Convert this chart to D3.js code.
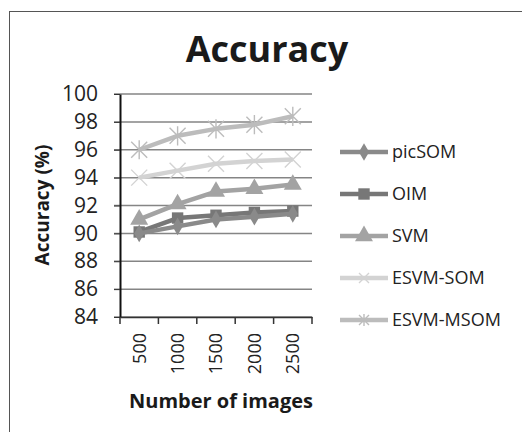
<!DOCTYPE html>
<html>
<head>
<meta charset="utf-8">
<script src="https://cdn.jsdelivr.net/npm/d3@7"></script>
<style>
  body { margin: 0; background: #fff; }
  svg { display: block; font-family: "Open Sans", sans-serif; }
</style>
</head>
<body>
<div id="chart"></div>
<script>
// chart data
const categories = ['500', '1000', '1500', '2000', '2500'];
const seriesNames = ['picSOM', 'OIM', 'SVM', 'ESVM-SOM', 'ESVM-MSOM'];
const picSOM = [90.0, 90.5, 91.0, 91.2, 91.4];
const OIM = [90.1, 91.1, 91.3, 91.5, 91.6];
const SVM = [91.0, 92.1, 93.0, 93.2, 93.5];
const esvmSOM = [94.0, 94.5, 95.0, 95.2, 95.3];
const esvmMSOM = [96.0, 97.0, 97.5, 97.8, 98.4];
const yTicks = [84, 86, 88, 90, 92, 94, 96, 98, 100];

const seriesValues = [picSOM, OIM, SVM, esvmSOM, esvmMSOM];
const colors = ['#8a8a8a', '#777777', '#a3a3a3', '#d3d3d3', '#bcbcbc'];
const symbols = ['diamond', 'square', 'triangle', 'x', 'star'];

let width = 522, height = 432;
let margin = { top: 94, left: 120, right: 210, bottom: 115 };

let svg = d3.select('#chart').append('svg')
    .attr('width', width)
    .attr('height', height);

// outer frame (only left and top edges visible)
svg.append('rect')
    .attr('x', 9.5).attr('y', 11.5)
    .attr('width', 600).attr('height', 600)
    .attr('fill', 'none')
    .attr('stroke', '#555')
    .attr('stroke-width', 1);

let x = d3.scaleBand()
    .domain(categories)
    .range([margin.left, width - margin.right]);

let y = d3.scaleLinear()
    .domain([84, 100])
    .range([height - margin.bottom, margin.top]);

// gridlines
svg.append('g')
    .selectAll('line').data(yTicks).enter().append('line')
    .attr('x1', margin.left - 6)
    .attr('x2', width - margin.right)
    .attr('y1', d => y(d))
    .attr('y2', d => y(d))
    .attr('stroke', '#858585')
    .attr('stroke-width', 1.5);

// y axis
let yAxis = svg.append('g')
    .attr('transform', `translate(${margin.left},0)`)
    .call(d3.axisLeft(y).tickValues(yTicks).tickSize(6).tickSizeOuter(0).tickPadding(16));
yAxis.select('.domain').attr('stroke', '#111').attr('stroke-width', 2);
yAxis.selectAll('.tick line').attr('stroke', '#333');
yAxis.selectAll('text')
    .attr('font-size', 21)
    .attr('fill', '#222')
    .style('font-family', '"Open Sans", sans-serif');

// x axis
let xAxis = svg.append('g')
    .attr('transform', `translate(0,${y(84)})`)
    .call(d3.axisBottom(x).tickSize(0).tickSizeOuter(0));
xAxis.select('.domain').attr('stroke', '#333').attr('stroke-width', 1.5);
xAxis.selectAll('.tick text')
    .attr('transform', 'rotate(-90)')
    .attr('text-anchor', 'end')
    .attr('x', -16)
    .attr('y', 0)
    .attr('dy', '0.35em')
    .attr('font-size', 18)
    .attr('fill', '#222')
    .style('font-family', '"Open Sans", sans-serif');

// x tick marks on band boundaries
let bounds = categories.map(c => x(c)).concat([x.range()[1]]);
svg.append('g')
    .selectAll('line').data(bounds).enter().append('line')
    .attr('x1', d => d).attr('x2', d => d)
    .attr('y1', y(84)).attr('y2', y(84) + 7)
    .attr('stroke', '#333').attr('stroke-width', 1.5);

// series
let line = d3.line()
    .x((d, i) => x(categories[i]) + x.bandwidth() / 2)
    .y(d => y(d));

function drawMarker(g, type, color, size) {
    if (type === 'x' || type === 'star') {
        let r = size;
        let p = g.append('path')
            .attr('fill', 'none')
            .attr('stroke', color)
            .attr('stroke-width', 1.4);
        let d = `M${-r},${-r}L${r},${r}M${-r},${r}L${r},${-r}`;
        if (type === 'star') d += `M0,${-r * 1.2}L0,${r * 1.2}`;
        p.attr('d', d);
    } else {
        let sym = { diamond: d3.symbolDiamond, square: d3.symbolSquare, triangle: d3.symbolTriangle }[type];
        let area = { diamond: 90, square: 130, triangle: 140 }[type];
        g.append('path')
            .attr('d', d3.symbol().type(sym).size(area)())
            .attr('fill', color);
    }
}

let seriesOrder = [4, 3, 2, 1, 0];
seriesOrder.forEach(si => {
    let vals = seriesValues[si];
    svg.append('path')
        .datum(vals)
        .attr('d', line)
        .attr('fill', 'none')
        .attr('stroke', colors[si])
        .attr('stroke-width', 4.5)
        .attr('stroke-linejoin', 'round');
    vals.forEach((v, i) => {
        let g = svg.append('g')
            .attr('transform', `translate(${x(categories[i]) + x.bandwidth() / 2},${y(v)})`);
        drawMarker(g, symbols[si], colors[si], 8);
    });
});

// legend
let legend = svg.append('g').attr('transform', 'translate(340,152)');
seriesNames.forEach((name, i) => {
    let g = legend.append('g').attr('transform', `translate(0,${i * 42})`);
    g.append('line')
        .attr('x1', 0).attr('x2', 48)
        .attr('stroke', colors[i]).attr('stroke-width', 4.5);
    let m = g.append('g').attr('transform', 'translate(24,0)');
    drawMarker(m, symbols[i], colors[i], 5);
    g.append('text')
        .attr('x', 52)
        .attr('dy', '0.35em')
        .attr('font-size', 18)
        .attr('fill', '#222')
        .text(name);
});

// titles
svg.append('text')
    .attr('x', 267).attr('y', 62)
    .attr('text-anchor', 'middle')
    .attr('font-size', 36)
    .attr('font-weight', 'bold')
    .attr('fill', '#1a1a1a')
    .text('Accuracy');

svg.append('text')
    .attr('transform', 'translate(49,205) rotate(-90)')
    .attr('text-anchor', 'middle')
    .attr('font-size', 19)
    .attr('font-weight', 'bold')
    .attr('fill', '#1a1a1a')
    .text('Accuracy (%)');

svg.append('text')
    .attr('x', 221).attr('y', 408)
    .attr('text-anchor', 'middle')
    .attr('font-size', 20)
    .attr('font-weight', 'bold')
    .attr('fill', '#1a1a1a')
    .text('Number of images');
</script>
</body>
</html>
